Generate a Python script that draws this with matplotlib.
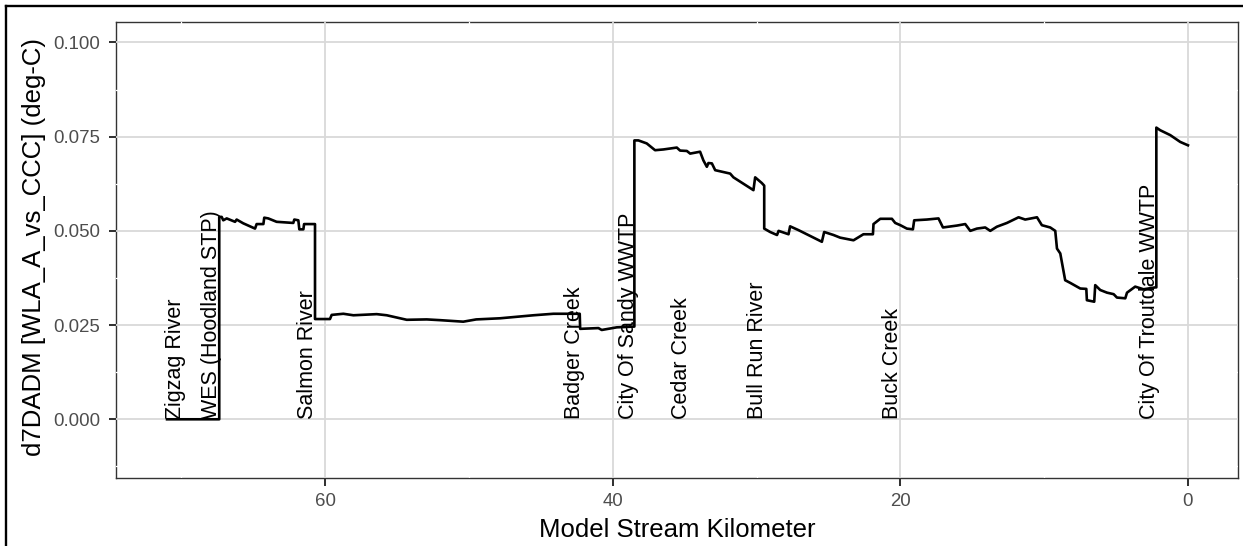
import matplotlib
matplotlib.use("Agg")
import matplotlib.pyplot as plt
from matplotlib.lines import Line2D
from matplotlib.ticker import MultipleLocator

plt.rcParams['font.family'] = ['Liberation Sans', 'DejaVu Sans']

# ---- data ----
km = [71.0, 67.37, 67.37, 67.2, 67.09, 66.85, 66.27, 66.16, 65.7, 64.88, 64.77, 64.3, 64.24,
      63.96, 63.38, 62.22, 62.15, 61.87, 61.8, 61.52, 61.47, 60.71, 60.71, 59.67, 59.55,
      58.74, 58.04, 56.42, 55.72, 54.33, 52.94, 52.0, 50.4, 49.5, 47.84, 45.52, 44.13,
      42.3, 42.27, 41.0, 40.77, 39.72, 38.5, 38.5, 38.22, 37.64, 37.06, 36.48, 35.55,
      35.32, 34.85, 34.62, 33.93, 33.70, 33.46, 33.35, 33.11, 32.88, 31.84, 31.61, 30.22,
      30.1, 29.64, 29.47, 29.47, 29.06, 28.58, 28.47, 27.78, 27.67, 27.09, 25.46, 25.3,
      24.65, 24.19, 23.26, 22.57, 21.91, 21.87, 21.40, 20.59, 20.36, 20.0, 19.55, 19.13,
      19.04, 18.16, 17.35, 17.04, 16.07, 15.49, 15.14, 14.68, 14.10, 13.75, 13.29, 12.59,
      11.78, 11.32, 10.50, 10.16, 9.58, 9.23, 9.11, 8.88, 8.54, 8.19, 7.72, 7.49, 7.07,
      7.03, 6.52, 6.45, 6.10, 5.63, 5.17, 4.94, 4.36, 4.24, 3.67, 3.09, 2.27, 2.20, 2.20,
      1.93, 1.23, 0.54, 0.0]
d7dadm = [0.0, 0.0, 0.0537, 0.0537, 0.0528, 0.0533, 0.0524, 0.0530, 0.0520, 0.0506, 0.0518,
          0.0518, 0.0535, 0.0533, 0.0524, 0.0521, 0.0530, 0.0528, 0.0504, 0.0504, 0.0518,
          0.0518, 0.0266, 0.0266, 0.0277, 0.0280, 0.0276, 0.0279, 0.0276, 0.0264, 0.0265,
          0.0263, 0.0259, 0.0265, 0.0268, 0.0276, 0.0280, 0.0280, 0.0240, 0.0242, 0.0237,
          0.0244, 0.0246, 0.0740, 0.0740, 0.0732, 0.0714, 0.0716, 0.0721, 0.0713, 0.0712,
          0.0705, 0.0710, 0.0687, 0.0670, 0.0680, 0.0679, 0.0661, 0.0652, 0.0642, 0.0608,
          0.0642, 0.0627, 0.0620, 0.0506, 0.0497, 0.0489, 0.0500, 0.0491, 0.0512, 0.0502,
          0.0471, 0.0497, 0.0489, 0.0482, 0.0475, 0.0491, 0.0491, 0.0518, 0.0532, 0.0532,
          0.0521, 0.0515, 0.0506, 0.0504, 0.0528, 0.0530, 0.0533, 0.0509, 0.0514, 0.0518,
          0.0500, 0.0506, 0.0509, 0.0500, 0.0511, 0.0521, 0.0536, 0.0530, 0.0536, 0.0515,
          0.0509, 0.0500, 0.0453, 0.0440, 0.0369, 0.0362, 0.0352, 0.0347, 0.0346, 0.0316,
          0.0312, 0.0356, 0.0343, 0.0336, 0.0332, 0.0323, 0.0321, 0.0336, 0.0352, 0.0345,
          0.0350, 0.0350, 0.0774, 0.0767, 0.0754, 0.0736, 0.0727]

site_names = ["Zigzag River", "WES (Hoodland STP)", "Salmon River", "Badger Creek",
              "City Of Sandy WWTP", "Cedar Creek", "Bull Run River", "Buck Creek",
              "City Of Troutdale WWTP"]
site_km = [70.4, 67.9, 61.25, 42.67, 38.91, 35.2, 29.94, 20.55, 2.67]
site_val = [0.0] * len(site_names)

x_ticks = [60, 40, 20, 0]
y_ticks = [0.0, 0.025, 0.05, 0.075, 0.1]
y_tick_labels = ["0.000", "0.025", "0.050", "0.075", "0.100"]

x_label = "Model Stream Kilometer"
y_label = "d7DADM [WLA_A_vs_CCC] (deg-C)"

# ---- figure ----
W, H = 1243, 546
fig = plt.figure(figsize=(W / 100, H / 100), dpi=100)
ax = fig.add_axes([116 / W, (H - 477.7) / H, (1238.3 - 116) / W, (477.7 - 21.7) / H])

ax.set_xlim(74.55, -3.5)
ax.set_ylim(-0.0155, 0.1055)

ax.plot(km, d7dadm, color="black", lw=1.9, zorder=3)

for name, xk, yv in zip(site_names, site_km, site_val):
    ax.text(xk, yv, name, rotation=90, ha="center", va="bottom",
            fontsize=15.5, color="black", zorder=4)

ax.set_xticks(x_ticks)
ax.set_yticks(y_ticks)
ax.set_yticklabels(y_tick_labels)
ax.xaxis.set_minor_locator(MultipleLocator(10))
ax.yaxis.set_minor_locator(MultipleLocator(0.0125))

ax.set_axisbelow(True)
ax.grid(True, which="major", color="#d9d9d9", lw=1.3)
for sp in ax.spines.values():
    sp.set_color("#333333")
    sp.set_linewidth(1.0)
    sp.set_zorder(0.3)

# minor gridlines (white) that nick the panel border
for xm in ax.xaxis.get_minorticklocs():
    if xm not in x_ticks:
        ax.axvline(xm, color="white", lw=0.9, zorder=0.45)
for ym in ax.yaxis.get_minorticklocs():
    if all(abs(ym - t) > 1e-9 for t in y_ticks):
        ax.axhline(ym, color="white", lw=0.9, zorder=0.45)

ax.tick_params(which="minor", length=0)
ax.tick_params(which="major", length=5.4, width=1.45, color="#333333",
               labelsize=13.4, labelcolor="#4d4d4d")
ax.tick_params(axis="x", which="major", pad=5.5)
ax.tick_params(axis="y", which="major", pad=6.1)

ax.set_xlabel(x_label, fontsize=18.5, color="black")
ax.set_ylabel(y_label, fontsize=18.5, color="black")
ax.xaxis.set_label_coords(0.5, -0.089)
ax.yaxis.set_label_coords(-0.0624, 0.505)

# outer figure border (cropped at right/bottom)
bx = 6.2 / W
by = 1 - 6.2 / H
fig.add_artist(Line2D([bx, bx], [-0.05, by], transform=fig.transFigure,
                      color="black", lw=1.7, solid_capstyle="projecting"))
fig.add_artist(Line2D([bx, 1.05], [by, by], transform=fig.transFigure,
                      color="black", lw=1.7, solid_capstyle="projecting"))

fig.savefig("out.png", dpi=100)
